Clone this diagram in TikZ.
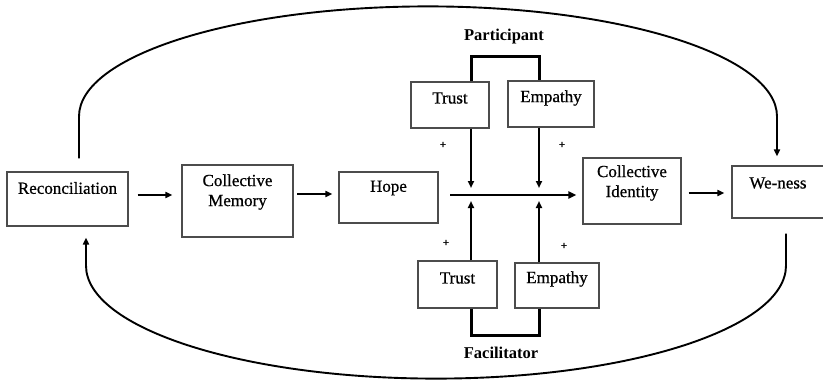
\documentclass[tikz,border=0pt]{standalone}
\usepackage{fontspec}
\setmainfont{Liberation Serif}
\newfontfamily\heavyfont{Liberation Serif}[FakeBold=0.7]
\usetikzlibrary{arrows.meta,calc}
\begin{document}
\begin{tikzpicture}[x=1pt,y=-1pt,
  box/.style={draw=black!70, line width=1.2pt, inner sep=0pt, fill=white},
  lbl/.style={font=\heavyfont\fontsize{17}{20}\selectfont, inner sep=0pt, align=center},
  ttl/.style={font=\fontsize{16.5}{19}\selectfont\bfseries, inner sep=0pt},
  plus/.style={font=\heavyfont\fontsize{11}{11}\selectfont, inner sep=0pt},
  arr/.style={line width=1.9pt, -{Triangle[length=7pt,width=6pt]}},
  varr/.style={line width=2pt, -{Triangle[length=7pt,width=6pt]}},
  harr/.style={line width=2.6pt, -{Triangle[length=8pt,width=7pt]}},
  brk/.style={line width=3pt, line join=miter},
  carr/.style={line width=1.9pt, -{Triangle[length=7pt,width=6pt]}}]
\useasboundingbox (0,0) rectangle (823,380);
% boxes
\node[box, minimum width=121pt, minimum height=54pt] (rec) at (67.5,199) {};
\node[lbl] (rect) at (67.5,188) {Reconciliation};
\node[box, minimum width=111pt, minimum height=72pt] (cm) at (237.5,201) {};
\node[lbl] (cmt) at (237.5,192) {Collective\\Memory};
\node[box, minimum width=99pt, minimum height=51pt] (hope) at (388.5,197.5) {};
\node[lbl] (hopet) at (388.5,188) {Hope};
\node[box, minimum width=78pt, minimum height=46pt] (tt) at (450,105) {};
\node[lbl] (ttt) at (450,98) {Trust};
\node[box, minimum width=86pt, minimum height=46pt] (te) at (551,104) {};
\node[lbl] (tet) at (551,98) {Empathy};
\node[box, minimum width=79pt, minimum height=47pt] (bt) at (457.5,284.5) {};
\node[lbl] (btt) at (457.5,278) {Trust};
\node[box, minimum width=84pt, minimum height=45pt] (be) at (557,285.5) {};
\node[lbl] (bet) at (557,279) {Empathy};
\node[box, minimum width=98pt, minimum height=66pt] (ci) at (632,191) {};
\node[lbl] (cit) at (632,183) {Collective\\Identity};
\node[box, minimum width=103pt, minimum height=52pt] (we) at (783.5,192) {};
\node[lbl] (wet) at (778,183) {We-ness};
% titles and signs
\node[ttl] (part) at (504,37) {Participant};
\node[ttl] (fac) at (501,353) {Facilitator};
\node[plus] (p1) at (443,145) {+};
\node[plus] (p2) at (562,145) {+};
\node[plus] (p3) at (446,243) {+};
\node[plus] (p4) at (564,246) {+};
% coordinates
\coordinate (hl) at (450,195);
\coordinate (d1) at (471,188);
\coordinate (d2) at (539,188);
\coordinate (u1) at (471,201);
\coordinate (u2) at (539,201);
\coordinate (bk1) at (505,56);
\coordinate (bk2) at (505,335);
% main chain
\draw[arr] (rec.east |- 0,195) ++(9,0) -- ($(cm.west |- 0,195)+(-9,0)$);
\draw[arr] (cm.east |- 0,194) ++(3.5,0) -- ($(hope.west |- 0,194)+(-6,0)$);
\draw[harr] (hl) -- ($(hl -| ci.west)+(-6,0)$);
\draw[arr] (ci.east |- 0,193) ++(7,0) -- ($(we.west |- 0,193)+(-7,0)$);
% moderators
\draw[varr] (tt.south -| d1) -- (d1);
\draw[varr] (te.south -| d2) -- (d2);
\draw[varr] (bt.north -| u1) -- (u1);
\draw[varr] (be.north -| u2) -- (u2);
\draw[brk] (tt.north -| d1) |- (bk1) -| (te.north -| d2);
\draw[brk] (bt.south -| u1) |- (bk2) -| (be.south -| u2);
% loops
\draw[carr] ([xshift=11.5pt,yshift=13pt]rec.north) -- ++(0,-42)
  arc[start angle=180,end angle=0,x radius=349pt,y radius=110pt]
  -- ([xshift=-6.5pt,yshift=9pt]we.north);
\draw[carr] ([xshift=2.5pt,yshift=-15pt]we.south) -- ++(0,32)
  arc[start angle=0,end angle=-180,x radius=350pt,y radius=113pt]
  -- ([xshift=18.5pt,yshift=-11pt]rec.south);
\end{tikzpicture}
\end{document}
